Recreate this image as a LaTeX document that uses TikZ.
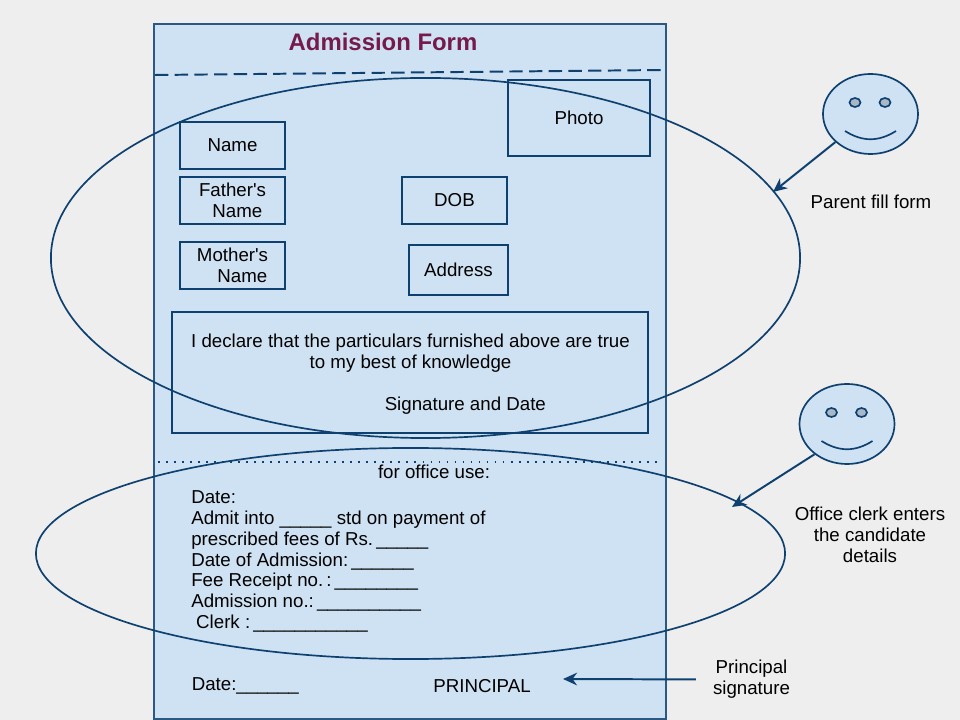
\documentclass[tikz,border=0pt]{standalone}
\usepackage{fontspec}
\setmainfont{Liberation Sans}
\usetikzlibrary{shapes.geometric,arrows.meta}
\definecolor{pagegrey}{HTML}{EEEEEE}
\definecolor{formblue}{HTML}{CFE2F3}
\definecolor{inkblue}{HTML}{0F4170}
\definecolor{titlered}{HTML}{751A4B}
\definecolor{eyegrey}{HTML}{A9B8C6}
\tikzset{
    formtext/.style={font=\fontsize{13.3}{14.9}\selectfont,inner sep=0pt,align=center},
    fieldbox/.style={draw=inkblue,line width=1.1pt,formtext},
    oval/.style={ellipse,draw=inkblue,line width=1.2pt,inner sep=0pt},
    pointer/.style={draw=inkblue,line width=1.4pt,-{Stealth[length=10pt,width=9pt]}}
}
\begin{document}
\begin{tikzpicture}[x=0.025cm,y=-0.025cm]
    \useasboundingbox[fill=pagegrey] (0,0) rectangle (960,720);

    % The form sheet with its title and the two separators
    \node[draw=inkblue!85!formblue,fill=formblue,line width=1.2pt,minimum width=12.8cm,minimum height=17.375cm] (form) at (410,371.5) {};
    \node[font=\fontsize{17}{20}\bfseries\selectfont,text=titlered,inner sep=0pt] (title) at (383,42) {Admission Form};
    \coordinate (dashleft) at (155,75);
    \coordinate (dashright) at (664,70);
    \draw[inkblue,line width=1.4pt,dash pattern=on 9.5pt off 4.5pt] (dashleft) -- (dashright);
    \coordinate (dotleft) at (158,462);
    \coordinate (dotright) at (660,462);
    \draw[inkblue,line width=1.3pt,dash pattern=on 1.3pt off 4.4pt] (dotleft) -- (dotright);

    % The fields filled in by the parent
    \node[fieldbox,minimum width=2.625cm,minimum height=1.175cm] (name) at (232.5,145.5) {Name};
    \node[fieldbox,minimum width=2.625cm,minimum height=1.175cm] (father) at (232.5,200.5) {Father\textquotesingle s\\\hspace*{7pt}Name};
    \node[fieldbox,minimum width=2.625cm,minimum height=1.175cm] (mother) at (232.5,265.5) {Mother\textquotesingle s\\\hspace*{14pt}Name};
    \node[fieldbox,minimum width=2.625cm,minimum height=1.175cm] (dob) at (454.5,200.5) {DOB};
    \node[fieldbox,minimum width=2.475cm,minimum height=1.25cm] (address) at (458.5,270) {Address};
    \node[fieldbox,minimum width=3.55cm,minimum height=1.9cm] (photo) at (579,118) {Photo};
    \node[fieldbox,minimum width=11.9cm,minimum height=3.025cm] (declare) at (410,372.5) {};
    \node[formtext] (declaretext) at (410.5,374) {I declare that the particulars furnished above are true\\to my best of knowledge\\~\\\hspace*{78pt}Signature and Date};

    % The office part of the form
    \node[formtext] (office) at (434,472) {for office use:};
    \node[formtext,align=left,anchor=north west] (details) at (191,490) {Date:\\
        Admit into \_\_\_\_\_ std on payment of\\
        prescribed fees of Rs.\,\_\_\_\_\_\\
        Date of Admission:\,\_\_\_\_\_\_\\
        Fee Receipt no.\,:\,\_\_\_\_\_\_\_\_\\
        Admission no.:\,\_\_\_\_\_\_\_\_\_\_\\
        \hspace*{3.5pt}Clerk :\,\_\_\_\_\_\_\_\_\_\_\_};
    \node[formtext,anchor=west] (signdate) at (191.5,686) {Date:\_\_\_\_\_\_};
    \node[formtext] (principal) at (482,686) {PRINCIPAL};

    % The two ovals round the parts of the form
    \node[oval,minimum width=18.725cm,minimum height=9cm] (parentoval) at (425.5,258) {};
    \node[oval,minimum width=18.725cm,minimum height=5.275cm] (clerkoval) at (410.5,553.5) {};

    % The two faces
    \foreach \facename/\cx/\cy in {parentface/870.5/114,clerkface/847/424} {
        \node[oval,fill=formblue,minimum width=2.375cm,minimum height=2cm] (\facename) at (\cx,\cy) {};
        \node[oval,fill=eyegrey,minimum width=0.275cm,minimum height=0.225cm] (\facename left) at (\cx-15.5,\cy-11.5) {};
        \node[oval,fill=eyegrey,minimum width=0.275cm,minimum height=0.225cm] (\facename right) at (\cx+14.5,\cy-11.5) {};
        \draw[inkblue,line width=1.2pt] (\cx-25.5,\cy+17) .. controls (\cx-8,\cy+28) and (\cx+8,\cy+28) .. (\cx+25.5,\cy+17);
    }

    % The labels beside the form
    \node[formtext] (parentlabel) at (871,201.5) {Parent fill form};
    \node[formtext] (clerklabel) at (870,535) {Office clerk enters\\the candidate\\details};
    \node[formtext] (signlabel) at (751.5,679.5) {Principal\\signature};

    % The arrows
    \coordinate (parenttip) at (773,192);
    \coordinate (clerktip) at (732,507);
    \coordinate (principaltip) at (563,679);
    \draw[pointer] (parentface) -- (parenttip);
    \draw[pointer] (clerkface.223) -- (clerktip);
    \draw[pointer,shorten <=0.425cm] (signlabel.west) -- (principaltip);
\end{tikzpicture}
\end{document}
